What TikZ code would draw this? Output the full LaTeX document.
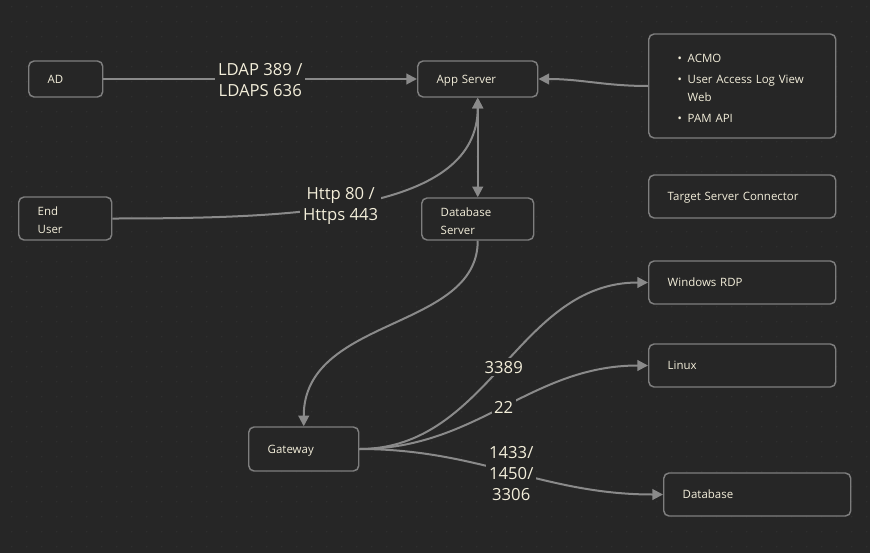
\documentclass[tikz,border=0pt]{standalone}
\usepackage{fontspec}
\setmainfont{Open Sans}
\usetikzlibrary{arrows.meta}
\definecolor{bg}{HTML}{262626}
\definecolor{griddot}{HTML}{303030}
\definecolor{edge}{HTML}{8A8A8A}
\definecolor{border}{HTML}{7E7E7E}
\definecolor{txt}{HTML}{F3EEDA}
\begin{document}
\begin{tikzpicture}[x=0.75pt,y=-0.75pt,
  box/.style={draw=border, fill=bg, line width=1.1pt, rounded corners=4pt, text=txt,
    font=\fontsize{8.6}{13.5}\selectfont, align=left, inner xsep=14.25pt, inner ysep=0pt, anchor=west},
  onebox/.style={box, text depth=0pt},
  twobox/.style={box, text depth=10.5pt},
  conn/.style={draw=edge, line width=1.5pt, -{Triangle[length=8pt,width=8pt]}},
  lbl/.style={fill=bg, text=txt, font=\fontsize{12.5}{15.75}\selectfont, align=center, inner sep=2pt}]
\fill[bg] (0,0) rectangle (870,553);
\useasboundingbox (0,0) rectangle (870,553);
\foreach \gx in {0,...,57} {\foreach \gy in {0,...,36} {\fill[griddot] (11.7+15*\gx,6.7+15*\gy) circle[radius=0.6pt];}}
% nodes
\node[onebox, minimum width=55.5pt, minimum height=27pt, text width=27pt] (ad) at (28,79) {AD};
\node[onebox, minimum width=90pt, minimum height=27pt, text width=61.5pt] (app) at (417,79) {App Server};
\node[box, text depth=42pt, minimum width=140.25pt, minimum height=78pt, text width=96.75pt, inner xsep=21.75pt] (bul) at (648,86)
  {\makebox[7.5pt][l]{•}ACMO\\[2.5pt]\makebox[7.5pt][l]{•}\mbox{User Access Log View}\\\hspace*{7.5pt}Web\\[2pt]\makebox[7.5pt][l]{•}PAM API};
\node[onebox, minimum width=140.25pt, minimum height=32.25pt, text width=111.75pt] (tsc) at (648,196.5) {Target Server Connector};
\node[twobox, minimum width=69.75pt, minimum height=32.25pt, text width=41.25pt] (eu) at (18,218.5) {End\\User};
\node[twobox, minimum width=84pt, minimum height=31.5pt, text width=55.5pt] (dbs) at (421,219) {Database\\Server};
\node[onebox, minimum width=140.25pt, minimum height=32.25pt, text width=111.75pt] (rdp) at (648,282.5) {Windows RDP};
\node[onebox, minimum width=140.25pt, minimum height=32.25pt, text width=111.75pt] (lin) at (648,365.5) {Linux};
\node[onebox, minimum width=82.5pt, minimum height=33pt, text width=54pt] (gw) at (248,449) {Gateway};
\node[onebox, minimum width=140.25pt, minimum height=32.25pt, text width=111.75pt] (db) at (663,494.5) {Database};
% connectors
\draw[conn] (ad) -- node[lbl, yshift=-0.5pt]{LDAP 389 /\\LDAPS 636} (app);
\draw[conn] (bul.west) to[out=180,in=0] (app.east);
\draw[conn] (eu.east) .. controls +(189,0) and +(0,113) .. node[lbl,pos=0.44,yshift=-0.5pt]{Http 80 /\\Https 443} (app.south);
\draw[conn, {Triangle[length=8pt,width=8pt]}-{Triangle[length=8pt,width=8pt]}] (app) -- (dbs);
\draw[conn] (dbs.south) .. controls +(0,90) and +(0,-110) .. (gw.north);
\draw[conn] (gw.east) to[out=0,in=180] node[lbl, yshift=-1pt]{3389} (rdp.west);
\draw[conn] (gw.east) to[out=0,in=180] node[lbl]{22} (lin.west);
\draw[conn] (gw.east) to[out=0,in=180] node[lbl, yshift=-1pt]{1433/\\1450/\\3306} (db.west);
\end{tikzpicture}
\end{document}
